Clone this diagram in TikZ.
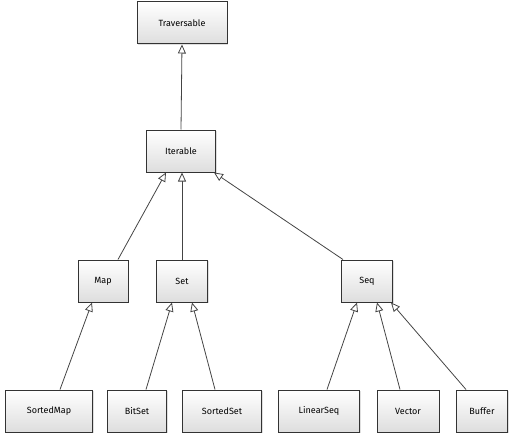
\documentclass[tikz,border=0pt]{standalone}
\usepackage{fontspec}
\setmainfont{Fira Sans}
\usetikzlibrary{arrows.meta,positioning,shadows}
\definecolor{boxline}{HTML}{333333}
\definecolor{linkline}{HTML}{444444}
\tikzset{
  classbox/.style={draw=boxline, line width=1pt, align=center,
    minimum height=42pt, inner sep=2pt, font=\small,
    top color=white, bottom color=black!13,
    drop shadow={shadow xshift=1.2pt, shadow yshift=-1.2pt, opacity=0.25}},
  isa/.style={-{Triangle[open, length=9pt, width=8pt, fill=white]}, line width=0.8pt, draw=linkline}
}
\begin{document}
\begin{tikzpicture}[x=1pt, y=-1pt]
    \useasboundingbox (0,0) rectangle (526,436);
    % top of the hierarchy
    \node[classbox, minimum width=90pt] (trav) at (182,23) {Traversable};
    \node[classbox, minimum width=69pt] (iter) at (181,151) {Iterable};
    % middle row
    \node[classbox, minimum width=50pt] (map) at (103,281) {Map};
    \node[classbox, minimum width=51pt] (set) at (182,281) {Set};
    \node[classbox, minimum width=51pt] (seq) at (367,281) {Seq};
    % leaves
    \node[classbox, minimum width=87pt] (sortedmap) at (49,411) {SortedMap};
    \node[classbox, minimum width=59pt] (bitset) at (137,411) {BitSet};
    \node[classbox, minimum width=79pt] (sortedset) at (222,411) {SortedSet};
    \node[classbox, minimum width=81pt] (linearseq) at (319,411) {LinearSeq};
    \node[classbox, minimum width=62pt] (vector) at (408,411) {Vector};
    \node[classbox, minimum width=51pt] (buffer) at (482,411) {Buffer};
    % inheritance links
    \draw[isa] (iter.north) -- (trav.south);
    \draw[isa] ([xshift=15pt]map.north) -- ([xshift=-15pt]iter.south);
    \draw[isa] (set.north) -- (set.north |- iter.south);
    \draw[isa] ([xshift=2pt]seq.north west) -- ([xshift=-2pt]iter.south east);
    \draw[isa] ([xshift=11pt]sortedmap.north) -- ([xshift=-11pt]map.south);
    \draw[isa] ([xshift=9pt]bitset.north) -- ([xshift=-10pt]set.south);
    \draw[isa] ([xshift=-7pt]sortedset.north) -- ([xshift=10pt]set.south);
    \draw[isa] ([xshift=8pt]linearseq.north) -- ([xshift=-10pt]seq.south);
    \draw[isa] ([xshift=-8pt]vector.north) -- ([xshift=10pt]seq.south);
    \draw[isa] ([xshift=-16pt]buffer.north) -- ([xshift=24pt]seq.south);
\end{tikzpicture}
\end{document}
